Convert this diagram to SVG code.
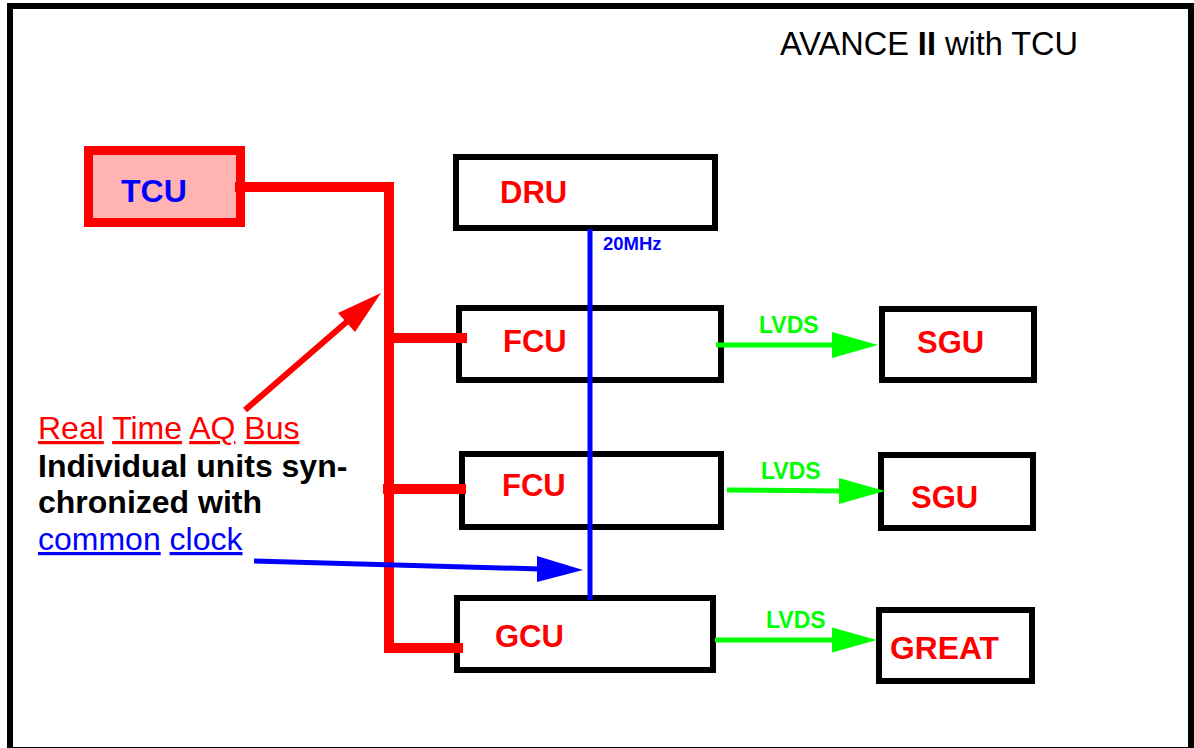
<svg xmlns="http://www.w3.org/2000/svg" width="1194" height="748" viewBox="0 0 1194 748">
<style>
.box{fill:#ffffff;stroke:#000000;stroke-width:6}
.lbl{font-family:"Liberation Sans",Arial,sans-serif;font-weight:bold;font-size:31px;fill:#ff0000}
.bus{fill:none;stroke:#ff0000;stroke-width:10}
.grn{stroke:#00ff00;stroke-width:5;fill:none}
.grnh{fill:#00ff00}
.lvds{font-family:"Liberation Sans",Arial,sans-serif;font-weight:bold;font-size:23px;fill:#00ff00}
.txt{font-family:"Liberation Sans",Arial,sans-serif;font-size:32px}
.u{text-decoration:underline}
</style>
<rect x="10" y="6" width="1181" height="744" fill="#ffffff" stroke="#000000" stroke-width="6"/>
<text x="780" y="55" font-family="'Liberation Sans',Arial,sans-serif" font-size="32.5" fill="#000000">AVANCE <tspan font-weight="bold">II</tspan> with TCU</text>

<g id="tcu">
<rect x="88.5" y="150.5" width="152" height="72" fill="#ffb3b3" stroke="#ff0000" stroke-width="9"/>
<text class="lbl" x="121" y="202" style="fill:#0000ff;font-size:32px">TCU</text>
</g>
<g id="dru">
<rect class="box" x="456" y="157" width="259" height="71"/>
<text class="lbl" x="500" y="203">DRU</text>
</g>
<g id="fcu1">
<rect class="box" x="459" y="308" width="262" height="72"/>
<text class="lbl" x="503" y="352">FCU</text>
</g>
<g id="fcu2">
<rect class="box" x="462" y="454" width="259" height="73"/>
<text class="lbl" x="502" y="496">FCU</text>
</g>
<g id="gcu">
<rect class="box" x="457" y="598" width="256" height="72"/>
<text class="lbl" x="495" y="647">GCU</text>
</g>
<g id="sgu1">
<rect class="box" x="882" y="309" width="152" height="71"/>
<text class="lbl" x="917" y="353">SGU</text>
</g>
<g id="sgu2">
<rect class="box" x="881" y="455" width="152" height="73"/>
<text class="lbl" x="911" y="508">SGU</text>
</g>
<g id="great">
<rect class="box" x="879" y="610" width="153" height="71"/>
<text class="lbl" x="890" y="659" style="font-size:31.8px">GREAT</text>
</g>

<g id="connectors">
<path class="bus" d="M235 187 H389 V648 H463"/>
<path class="bus" d="M389 338 H467"/>
<path class="bus" d="M383 489 H466"/>
<line x1="590" y1="229" x2="590" y2="600" stroke="#0000ff" stroke-width="5"/>
<text x="603" y="250" font-family="'Liberation Sans',Arial,sans-serif" font-weight="bold" font-size="18.5" fill="#0000ff">20MHz</text>

<line class="grn" x1="716" y1="345" x2="834" y2="345"/>
<polygon class="grnh" points="832,332 878,345 832,358"/>
<text class="lvds" x="759" y="333">LVDS</text>

<line class="grn" x1="727" y1="490" x2="841" y2="491"/>
<polygon class="grnh" points="839,478 885,491 839,504"/>
<text class="lvds" x="761" y="479">LVDS</text>

<line class="grn" x1="715" y1="640" x2="834" y2="640"/>
<polygon class="grnh" points="832,627.5 877,640 832,652.5"/>
<text class="lvds" x="766" y="628">LVDS</text>

<line x1="245" y1="410" x2="350" y2="319" stroke="#ff0000" stroke-width="6"/>
<polygon points="338,313 381,293 355,332" fill="#ff0000"/>

<line x1="254" y1="561" x2="540" y2="569" stroke="#0000ff" stroke-width="5"/>
<polygon points="537,556 583,570 537,582" fill="#0000ff"/>
</g>

<text class="txt" x="38" y="439" fill="#ff0000"><tspan class="u">Real</tspan> <tspan class="u">Time</tspan> <tspan class="u">AQ</tspan> <tspan class="u">Bus</tspan></text>
<text class="txt" x="38" y="477" font-weight="bold" fill="#000000">Individual units syn-</text>
<text class="txt" x="38" y="513" font-weight="bold" fill="#000000">chronized with</text>
<text class="txt" x="38" y="550" fill="#0000ff"><tspan class="u">common</tspan> <tspan class="u">clock</tspan></text>
</svg>
